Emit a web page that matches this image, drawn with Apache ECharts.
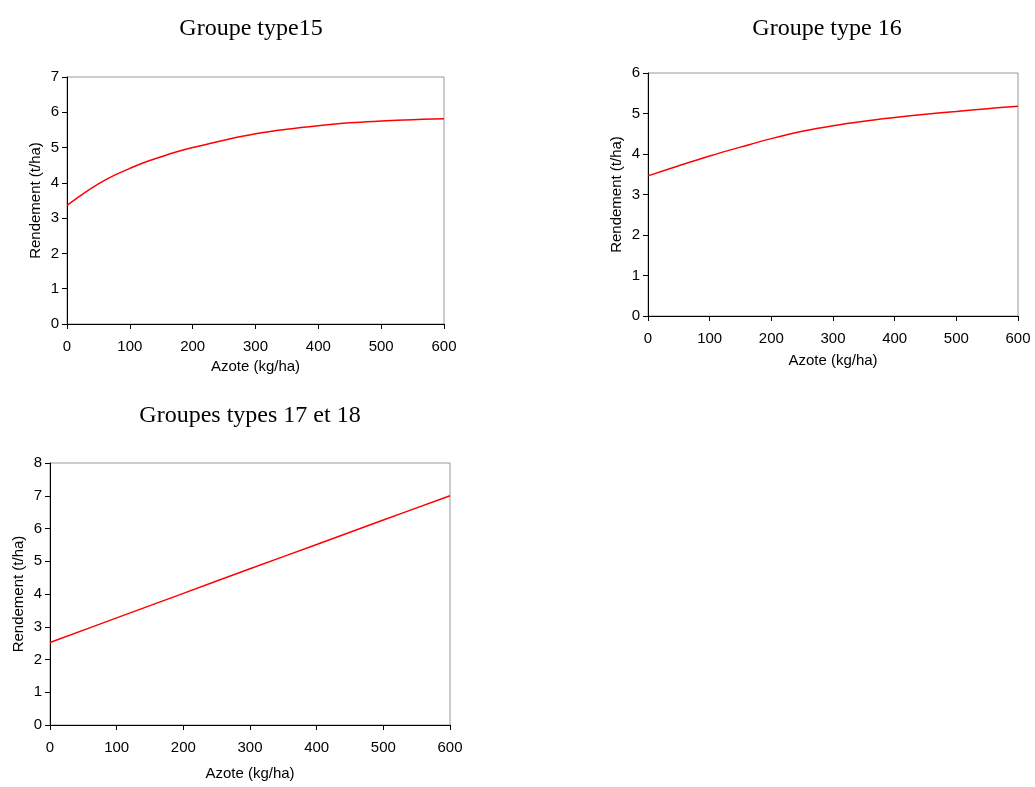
<!DOCTYPE html>
<html>
<head>
<meta charset="utf-8">
<script src="https://cdn.jsdelivr.net/npm/echarts@6/dist/echarts.min.js"></script>
<style>html,body{margin:0;padding:0;background:#fff}#c{width:1035px;height:787px}</style>
</head>
<body>
<div id="c"></div>
<script>
// Data
const titles = ["Groupe type15", "Groupe type 16", "Groupes types 17 et 18"];
const xName = "Azote (kg/ha)";
const yName = "Rendement (t/ha)";

const azote15 = [0, 25, 50, 75, 100, 125, 150, 175, 200, 250, 300, 350, 400, 450, 500, 550, 600];
const rend15  = [3.36, 3.68, 3.97, 4.21, 4.41, 4.59, 4.74, 4.88, 5.00, 5.21, 5.39, 5.52, 5.62, 5.70, 5.75, 5.79, 5.82];

const azote16 = [0, 50, 100, 150, 200, 250, 300, 350, 400, 450, 500, 550, 600];
const rend16  = [3.46, 3.71, 3.95, 4.17, 4.38, 4.56, 4.70, 4.81, 4.90, 4.98, 5.05, 5.12, 5.18];

const azote17 = [0, 100, 200, 300, 400, 500, 600];
const rend17  = [2.52, 3.27, 4.02, 4.77, 5.51, 6.26, 7.00];

const yMax = [7, 6, 8];

const grids = [
  {left: 67, top: 77, width: 377, height: 247},
  {left: 648, top: 73, width: 370, height: 243},
  {left: 50, top: 463, width: 400, height: 262}
];
const xNameGap = [35, 37, 41];
const titlePos = [{x: 246, y: 24}, {x: 822, y: 24}, {x: 245, y: 411}];
const series = [[azote15, rend15], [azote16, rend16], [azote17, rend17]];

const font = "Liberation Sans";
const chart = echarts.init(document.getElementById('c'), null, {renderer: 'canvas'});
const option = {
  backgroundColor: '#fff',
  animation: false,
  title: titles.map((t, i) => ({
    text: t, left: titlePos[i].x, top: titlePos[i].y, textAlign: 'center', textVerticalAlign: 'middle',
    textStyle: {fontFamily: 'Liberation Serif', fontWeight: 'normal', fontSize: 24, color: '#000'}
  })),
  grid: grids.map(g => Object.assign({show: true, borderColor: '#999', borderWidth: 1, backgroundColor: '#fff', containLabel: false}, g)),
  xAxis: grids.map((g, i) => ({
    type: 'value', gridIndex: i, min: 0, max: 600, interval: 100,
    name: xName, nameLocation: 'middle', nameGap: xNameGap[i],
    nameTextStyle: {fontFamily: font, fontSize: 15, color: '#000'},
    axisLine: {show: true, lineStyle: {color: '#000', width: 1}},
    axisTick: {show: true, inside: false, length: 5, lineStyle: {color: '#000'}},
    axisLabel: {fontFamily: font, fontSize: 15, color: '#000', margin: 15},
    splitLine: {show: false}
  })),
  yAxis: grids.map((g, i) => ({
    type: 'value', gridIndex: i, min: 0, max: yMax[i], interval: 1,
    name: yName, nameLocation: 'middle', nameGap: 24, nameRotate: 90,
    nameTextStyle: {fontFamily: font, fontSize: 15, color: '#000'},
    axisLine: {show: true, lineStyle: {color: '#000', width: 1}},
    axisTick: {show: true, inside: false, length: 5, lineStyle: {color: '#000'}},
    axisLabel: {fontFamily: font, fontSize: 15, color: '#000', margin: 8},
    splitLine: {show: false}
  })),
  series: series.map((s, i) => ({
    type: 'line', xAxisIndex: i, yAxisIndex: i, smooth: 0.4, showSymbol: false,
    data: s[0].map((x, j) => [x, s[1][j]]),
    lineStyle: {color: '#ff0000', width: 1.5}
  }))
};
chart.setOption(option);
</script>
</body>
</html>
